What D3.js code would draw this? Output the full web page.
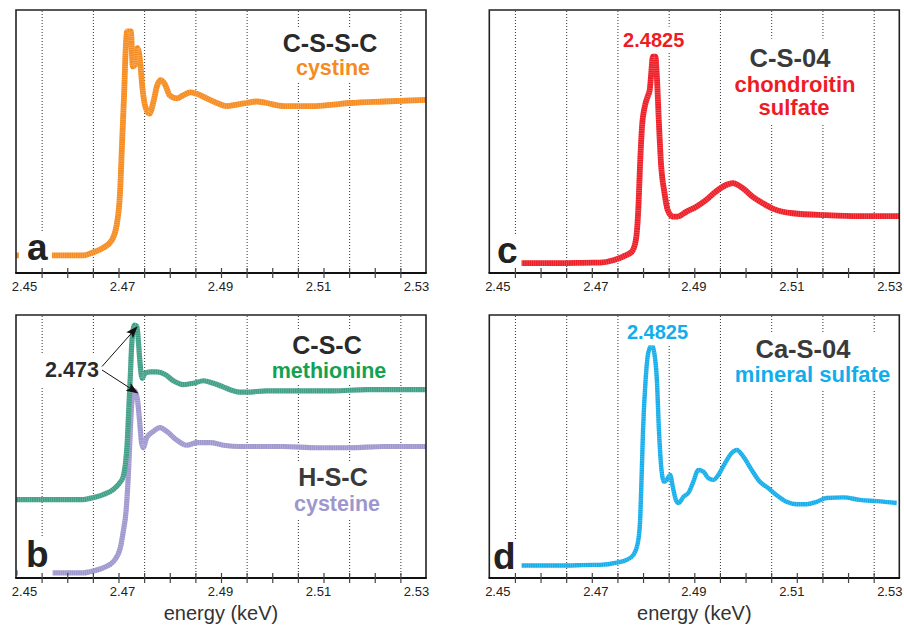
<!DOCTYPE html>
<html><head><meta charset="utf-8">
<script src="https://cdn.jsdelivr.net/npm/d3@7"></script>
<style>
body{margin:0;background:#fff;}
svg{display:block;font-family:"Liberation Sans",Arial,Helvetica,sans-serif;}
</style>
</head><body>
<svg id="chart" width="904" height="627"></svg>
<script>
// ---------- data (energy keV, normalized absorbance) ----------
const energyDomain = [2.45, 2.53];
const tickLabels = [2.45, 2.47, 2.49, 2.51, 2.53];
const minorTicks = [2.455,2.46,2.465,2.47,2.475,2.48,2.485,2.49,2.495,2.50,2.505,2.51,2.515,2.52,2.525];
const gridTicks = [2.455,2.465,2.475,2.485,2.495,2.505,2.515,2.525];

const cystine = [[2.4500,0.00],[2.4570,0.00],[2.4631,0.00],[2.4650,0.02],[2.4670,0.05],[2.4687,0.10],[2.4697,0.21],[2.4703,0.41],[2.4707,0.74],[2.4711,1.06],[2.4714,1.35],[2.4717,1.47],[2.4724,1.47],[2.4728,1.24],[2.4732,1.25],[2.4737,1.36],[2.4742,1.28],[2.4747,1.09],[2.4752,0.98],[2.4760,0.93],[2.4769,1.02],[2.4775,1.11],[2.4782,1.15],[2.4791,1.12],[2.4800,1.05],[2.4814,1.03],[2.4826,1.05],[2.4840,1.07],[2.4853,1.06],[2.4872,1.03],[2.4892,1.00],[2.4911,0.98],[2.4931,0.99],[2.4950,1.00],[2.4970,1.01],[2.4989,1.00],[2.5022,0.98],[2.5048,0.98],[2.5080,0.98],[2.5119,0.99],[2.5152,1.00],[2.5217,1.01],[2.5300,1.02]];

const methionine = [[2.4500,0.58],[2.4631,0.58],[2.4644,0.59],[2.4670,0.62],[2.4690,0.66],[2.4702,0.71],[2.4709,0.76],[2.4717,1.03],[2.4720,1.29],[2.4723,1.55],[2.4726,1.82],[2.4731,1.96],[2.4736,1.95],[2.4739,1.82],[2.4742,1.66],[2.4746,1.54],[2.4752,1.58],[2.4762,1.59],[2.4775,1.59],[2.4791,1.57],[2.4807,1.52],[2.4826,1.49],[2.4846,1.50],[2.4866,1.52],[2.4885,1.50],[2.4905,1.47],[2.4924,1.44],[2.4937,1.43],[2.4949,1.43],[2.4989,1.44],[2.5054,1.44],[2.5119,1.44],[2.5184,1.45],[2.5249,1.45],[2.5300,1.45]];

const cysteine = [[2.4500,0.00],[2.4631,0.00],[2.4644,0.01],[2.4670,0.04],[2.4690,0.09],[2.4703,0.19],[2.4709,0.32],[2.4715,0.50],[2.4719,0.76],[2.4722,1.03],[2.4725,1.29],[2.4728,1.41],[2.4732,1.44],[2.4737,1.37],[2.4741,1.21],[2.4745,1.03],[2.4748,0.99],[2.4755,1.07],[2.4768,1.12],[2.4781,1.15],[2.4794,1.12],[2.4814,1.05],[2.4833,1.01],[2.4853,1.03],[2.4879,1.03],[2.4905,1.01],[2.4937,1.00],[2.4957,1.00],[2.5022,1.00],[2.5087,0.99],[2.5152,0.99],[2.5217,1.00],[2.5300,1.00]];

const chondroitinSulfate = [[2.4500,0.00],[2.4566,0.00],[2.4638,0.00],[2.4703,0.01],[2.4716,0.01],[2.4742,0.06],[2.4761,0.14],[2.4778,0.24],[2.4786,0.49],[2.4791,1.20],[2.4794,2.05],[2.4798,2.90],[2.4804,3.36],[2.4809,3.54],[2.4813,3.68],[2.4816,4.04],[2.4819,4.39],[2.4824,4.39],[2.4827,3.96],[2.4831,2.97],[2.4835,2.12],[2.4842,1.48],[2.4848,1.13],[2.4858,0.99],[2.4868,0.99],[2.4884,1.09],[2.4904,1.20],[2.4923,1.34],[2.4942,1.52],[2.4962,1.66],[2.4975,1.70],[2.4995,1.59],[2.5014,1.41],[2.5034,1.27],[2.5053,1.16],[2.5092,1.06],[2.5157,1.02],[2.5222,1.00],[2.5300,1.00]];

const mineralSulfate = [[2.4563,0.00],[2.4638,0.00],[2.4703,0.01],[2.4716,0.01],[2.4749,0.045],[2.4768,0.09],[2.4781,0.17],[2.4789,0.33],[2.4794,0.68],[2.4797,1.37],[2.4800,2.17],[2.4805,2.97],[2.4810,3.40],[2.4817,3.53],[2.4822,3.40],[2.4827,2.97],[2.4831,2.17],[2.4836,1.53],[2.4841,1.34],[2.4846,1.37],[2.4853,1.45],[2.4858,1.26],[2.4864,1.05],[2.4869,1.00],[2.4879,1.10],[2.4890,1.18],[2.4898,1.34],[2.4908,1.53],[2.4918,1.50],[2.4927,1.40],[2.4937,1.37],[2.4947,1.45],[2.4960,1.64],[2.4973,1.80],[2.4983,1.85],[2.4996,1.74],[2.5012,1.53],[2.5028,1.34],[2.5044,1.24],[2.5060,1.13],[2.5080,1.02],[2.5100,0.98],[2.5119,0.98],[2.5139,1.02],[2.5158,1.08],[2.5191,1.09],[2.5223,1.05],[2.5256,1.03],[2.5295,1.00]];

const panelLetters = ["a", "b", "c", "d"];
const axisTitle = "energy (keV)";

// ---------- styles ----------
const COL = {
  orange:"#F68B1F", teal:"#3E9F86", green:"#13A24F", purple:"#9D97CE",
  red:"#EE1C25", cyan:"#12ADEB", dark:"#2a2a2a", gray:"#3a3a3a"
};
const FONT = '"Liberation Sans",Arial,Helvetica,sans-serif';

const svg = d3.select("#chart");
const defs = svg.append("defs");
defs.append("marker").attr("id","arrowhead")
  .attr("markerUnits","userSpaceOnUse")
  .attr("markerWidth",12).attr("markerHeight",9)
  .attr("refX",11).attr("refY",4.5).attr("orient","auto")
  .append("path").attr("d","M0,0 L12,4.5 L0,9 L2.5,4.5 Z").attr("fill","#111");

const panels = [
  {letter:panelLetters[0], x0:16, x1:426, y0:10, y1:273, yDomain:[-0.115,1.61],
   series:[{data:cystine,color:COL.orange,w:5.8}],
   letterPos:[27,260],
   blocks:[{pad:2, lines:[
      {t:"C-S-S-C", x:330, y:52, size:25, color:COL.dark},
      {t:"cystine", x:333, y:74.5, size:21.5, color:COL.orange}]}]},
  {letter:panelLetters[1], x0:16, x1:426, y0:315, y1:578, yDomain:[-0.04,2.04],
   series:[{data:cysteine,color:COL.purple,w:5.2},{data:methionine,color:COL.teal,w:5.2}],
   letterPos:[26,566.7], xTitle:true,
   blocks:[
     {pad:2, lines:[
      {t:"C-S-C", x:327, y:354, size:25, color:COL.dark},
      {t:"methionine", x:329, y:377.5, size:21.5, color:COL.green}]},
     {pad:2, lines:[
      {t:"H-S-C", x:333, y:486, size:25, color:COL.gray},
      {t:"cysteine", x:337, y:511, size:21.5, color:COL.purple}]},
     {pad:5, lines:[{t:"2.473", x:72, y:377.3, size:21.5, color:COL.dark}]}],
   arrows:true},
  {letter:panelLetters[2], x0:489.3, x1:899.3, y0:10, y1:273, yDomain:[-0.21,5.38],
   series:[{data:chondroitinSulfate,color:COL.red,w:5.8}],
   letterPos:[497,263],
   blocks:[
     {pad:2, lines:[{t:"2.4825", x:653.7, y:46.7, size:20, color:COL.red}]},
     {pad:5, lines:[
      {t:"C-S-04", x:790, y:66.7, size:25.5, color:COL.gray},
      {t:"chondroitin", x:795, y:91.7, size:22, color:COL.red},
      {t:"sulfate", x:794, y:115, size:22, color:COL.red}]}]},
  {letter:panelLetters[3], x0:489.3, x1:899.3, y0:315, y1:578, yDomain:[-0.2,4.01],
   series:[{data:mineralSulfate,color:COL.cyan,w:4.4}],
   letterPos:[493,569], xTitle:true,
   blocks:[
     {pad:2, lines:[{t:"2.4825", x:657.5, y:339.3, size:20, color:COL.cyan}]},
     {pad:3, lines:[
      {t:"Ca-S-04", x:803, y:358.3, size:25.5, color:COL.gray},
      {t:"mineral sulfate", x:812.5, y:381.7, size:22, color:COL.cyan}]}]}
];

function styleAxis(sel){
  sel.attr("font-family", FONT);
  sel.select(".domain").remove();
}

panels.forEach((p, i) => {
  const g = svg.append("g");
  const x = d3.scaleLinear().domain(energyDomain).range([p.x0, p.x1]);
  const y = d3.scaleLinear().domain(p.yDomain).range([p.y1, p.y0]);
  const h = p.y1 - p.y0;

  // dotted grid lines
  g.append("g").attr("transform",`translate(0,${p.y1})`)
    .call(d3.axisBottom(x).tickValues(gridTicks).tickSize(-h).tickFormat(""))
    .call(styleAxis)
    .call(s => s.selectAll("line").attr("stroke","#333").attr("stroke-width",1).attr("stroke-dasharray","1,2"));

  // clip
  const cid = "clip"+i;
  defs.append("clipPath").attr("id",cid).append("rect")
    .attr("x",p.x0).attr("y",p.y0).attr("width",p.x1-p.x0).attr("height",h);

  const line = d3.line().x(d => x(d[0])).y(d => y(d[1])).curve(d3.curveMonotoneX);
  const lg = g.append("g").attr("clip-path",`url(#${cid})`);
  p.series.forEach(s => {
    lg.append("path").datum(s.data).attr("d",line)
      .attr("fill","none").attr("stroke",s.color).attr("stroke-width",s.w)
      .attr("stroke-linejoin","round").attr("stroke-linecap","butt");
    lg.append("path").datum(s.data).attr("d",line)
      .attr("fill","none").attr("stroke","#fff").attr("stroke-opacity",0.3)
      .attr("stroke-width",s.w).attr("stroke-dasharray","0.6,1.6");
  });

  // text blocks (one text element per block, lines as tspans) with white background
  p.blocks.forEach(b => {
    const tg = g.append("g");
    const txt = tg.append("text").attr("text-anchor","middle")
      .attr("font-weight","bold").attr("font-family",FONT);
    b.lines.forEach(l => {
      txt.append("tspan").attr("x",l.x).attr("y",l.y)
        .attr("font-size",l.size).attr("fill",l.color).text(l.t);
    });
    const bb = tg.node().getBBox();
    tg.insert("rect",":first-child").attr("x",bb.x-b.pad).attr("y",bb.y-b.pad)
      .attr("width",bb.width+2*b.pad).attr("height",bb.height+2*b.pad).attr("fill","#fff");
  });

  // arrows (panel b) pointing at the white-line peaks
  if (p.arrows) {
    const ag = g.append("g");
    [methionine, cysteine].forEach((data, k) => {
      const pk = d3.greatest(data, d => d[1]);
      ag.append("line").attr("x1",102).attr("y1",366.5 + k*3.5)
        .attr("x2",x(pk[0])+2.5).attr("y2",y(pk[1])+2)
        .attr("stroke","#111").attr("stroke-width",1)
        .attr("marker-end","url(#arrowhead)");
    });
  }

  // panel letter with white background
  const lt = g.append("g");
  const t = lt.append("text").attr("x",p.letterPos[0]).attr("y",p.letterPos[1])
    .attr("font-size",37).attr("font-weight","bold").attr("fill","#222")
    .attr("font-family",FONT).text(p.letter);
  const lb = t.node().getBBox();
  lt.insert("rect",":first-child").attr("x",lb.x-8).attr("y",lb.y+4)
    .attr("width",lb.width+12).attr("height",p.y1-1-(lb.y+4)).attr("fill","#fff");

  // frame
  g.append("path")
    .attr("d",`M${p.x0},${p.y1} V${p.y0} H${p.x1} V${p.y1}`)
    .attr("fill","none").attr("stroke","#222").attr("stroke-width",1.6);
  g.append("line").attr("x1",p.x0-0.8).attr("x2",p.x1+0.8).attr("y1",p.y1).attr("y2",p.y1)
    .attr("stroke","#111").attr("stroke-width",2);

  // tick marks straddling the axis
  g.append("g").attr("transform",`translate(0,${p.y1-5})`)
    .call(d3.axisBottom(x).tickValues(minorTicks).tickSize(10).tickFormat(""))
    .call(styleAxis)
    .call(s => s.selectAll("line").attr("stroke","#444").attr("stroke-width",1.2));

  // tick labels
  const xl = x.copy().range([p.x0+8, p.x1-10]);
  g.append("g").attr("transform",`translate(0,${p.y1})`)
    .call(d3.axisBottom(xl).tickValues(tickLabels).tickSize(0).tickPadding(9).tickFormat(d3.format(".2f")))
    .call(styleAxis)
    .call(s => s.selectAll("text").attr("font-size",13).attr("fill","#222"));

  if (p.xTitle) {
    g.append("text").attr("x",(p.x0+p.x1)/2).attr("y",620).attr("text-anchor","middle")
      .attr("font-size",20).attr("fill","#333").attr("font-family",FONT).text(axisTitle);
  }
});
</script>
</body></html>
